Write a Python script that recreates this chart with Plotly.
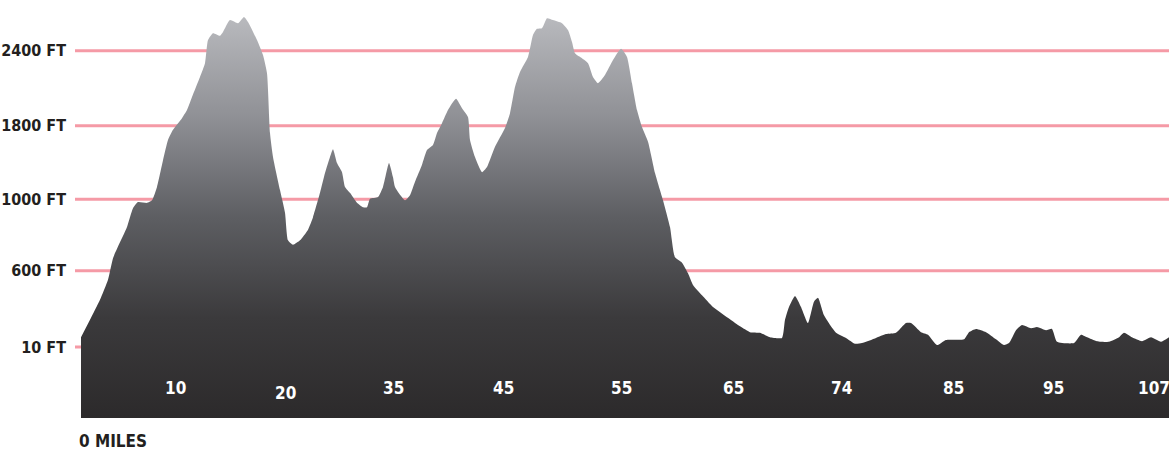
import numpy as np
import plotly.graph_objects as go

# ---- data ----
miles = [0.0, 0.9, 1.9, 2.7, 3.2, 3.7, 4.6, 5.2, 5.7, 6.6, 7.1, 7.6, 8.2, 8.7, 9.2,
         10.1, 10.6, 11.1, 11.9, 12.4, 12.7, 13.2, 13.9, 14.2, 14.9, 15.7, 16.3, 16.7,
         17.6, 18.2, 18.6, 18.9, 19.2, 19.9, 20.4, 20.7, 21.2, 21.9, 22.7, 23.2, 23.9,
         24.4, 24.9, 25.2, 25.6, 26.1, 26.4, 26.9, 27.6, 28.2, 28.6, 28.9, 29.7, 30.2,
         30.8, 31.2, 31.4, 32.4, 32.9, 33.4, 34.1, 34.6, 35.2, 35.6, 36.1, 36.7, 37.5,
         38.1, 38.7, 38.9, 39.4, 40.1, 40.6, 41.4, 42.4, 42.9, 43.4, 43.9, 44.7, 45.2,
         45.6, 46.1, 46.6, 47.2, 48.1, 48.7, 49.1, 49.4, 50.1, 50.7, 51.2, 51.7, 52.4,
         53.2, 54.0, 54.6, 55.1, 55.6, 56.1, 56.7, 57.4, 58.2, 58.9, 59.4, 60.1, 60.7,
         61.2, 62.1, 63.2, 64.9, 65.9, 66.9, 67.9, 68.9, 70.1, 70.4, 70.8, 71.4, 72.0,
         72.7, 73.3, 73.7, 74.3, 75.5, 76.5, 77.4, 78.1, 79.5, 80.5, 81.5, 82.5, 83.0,
         84.0, 84.7, 85.6, 86.5, 88.3, 88.8, 89.5, 90.5, 91.5, 92.3, 92.8, 93.5, 94.1,
         95.0, 95.6, 96.5, 97.1, 97.6, 99.3, 100.0, 100.6, 101.6, 102.8, 103.8, 104.3,
         105.1, 106.1, 107.0, 108.0, 108.8]
elevation_ft = [85, 220, 375, 530, 670, 735, 845, 950, 985, 980, 995, 1135, 1425, 1645, 1755,
                1860, 1925, 2030, 2190, 2300, 2485, 2540, 2520, 2550, 2645, 2620, 2670, 2630,
                2485, 2365, 2220, 1720, 1460, 1100, 925, 770, 745, 770, 830, 900, 1070,
                1285, 1460, 1545, 1395, 1295, 1135, 1070, 980, 955, 955, 1005, 1025, 1135,
                1395, 1240, 1135, 995, 1045, 1190, 1375, 1535, 1590, 1720, 1820, 1925, 2015,
                1940, 1870, 1645, 1460, 1295, 1350, 1570, 1775, 1900, 2110, 2230, 2350, 2525,
                2575, 2580, 2660, 2645, 2620, 2565, 2470, 2380, 2340, 2300, 2190, 2140, 2205,
                2325, 2415, 2350, 2140, 1925, 1785, 1625, 1285, 995, 845, 675, 645, 580,
                490, 410, 320, 225, 170, 125, 120, 85, 80, 220, 320, 405, 320,
                195, 360, 390, 255, 120, 80, 35, 40, 80, 110, 120, 195, 195,
                125, 105, 25, 65, 70, 125, 150, 125, 70, 25, 40, 140, 180,
                155, 165, 140, 150, 50, 40, 105, 85, 55, 50, 85, 120,
                85, 55, 85, 50, 85]

elev_tick_ft = [10, 600, 1000, 1800, 2400]
elev_tick_labels = ["10 FT", "600 FT", "1000 FT", "1800 FT", "2400 FT"]
mile_labels = ["10", "20", "35", "45", "55", "65", "74", "85", "95", "107"]
start_label = "0 MILES"

# ---- scale of the reference's stepped elevation axis ----
scale_ft = [0, 10, 600, 1000, 1800, 2400, 3000]
scale_pos = [66, 71, 147.3, 218.7, 292.3, 367.3, 442.3]
def ft_to_pos(v):
    return np.interp(v, scale_ft, scale_pos)

mile_label_x = [9.4, 20.4, 31.25, 42.2, 54.05, 65.25, 76.0, 87.2, 97.2, 107.3]
mile_label_y = [30, 25, 30, 30, 30, 30, 30, 30, 30, 30]

FONT = "DejaVu Sans Condensed, DejaVu Sans, sans-serif"
TEXT = "#231f20"
PINK = "#f59aa6"

fig = go.Figure()
fig.add_trace(go.Scatter(
    x=miles, y=ft_to_pos(elevation_ft),
    mode="lines", line=dict(width=0, shape="spline", smoothing=0.5),
    fill="tozeroy",
    fillgradient=dict(type="vertical", start=0, stop=400,
                      colorscale=[[0, "#2c2a2b"], [0.25, "#3b3a3c"], [0.5, "#5d5e62"],
                                  [0.75, "#8f9095"], [1, "#b8b9bd"]]),
    hoverinfo="skip", showlegend=False,
))

shapes = []
for t in ft_to_pos(elev_tick_ft):
    shapes.append(dict(type="line", xref="paper", yref="y", x0=-6 / 1088, x1=1,
                       y0=t, y1=t, line=dict(color=PINK, width=3), layer="below"))

annotations = []
for lab, xx, yy in zip(mile_labels, mile_label_x, mile_label_y):
    annotations.append(dict(x=xx, y=yy, xref="x", yref="y", text=lab, showarrow=False,
                            font=dict(family=FONT, size=17, color="white", weight="bold"),
                            xanchor="center", yanchor="middle"))
annotations.append(dict(x=-4 / 1088, y=-23 / 418, xref="paper", yref="paper",
                        text=start_label, showarrow=False, xanchor="left", yanchor="middle",
                        font=dict(family=FONT, size=17, color=TEXT, weight="bold")))

fig.update_layout(
    width=1169, height=450,
    margin=dict(l=81, r=0, t=0, b=32, autoexpand=False),
    paper_bgcolor="white", plot_bgcolor="white",
    shapes=shapes, annotations=annotations,
    xaxis=dict(range=[0, 108.8], showgrid=False, zeroline=False, showticklabels=False,
               ticks="", showline=False, fixedrange=True, automargin=False),
    yaxis=dict(range=[0, 418], showgrid=False, zeroline=False, showline=False,
               tickvals=list(ft_to_pos(elev_tick_ft)), ticktext=elev_tick_labels,
               ticks="", ticklabelstandoff=14, automargin=False,
               tickfont=dict(family=FONT, size=16, color=TEXT, weight="bold"),
               fixedrange=True),
)

fig.write_html("out.html", config={"displayModeBar": False},
               post_script="document.body.style.margin='0';")
